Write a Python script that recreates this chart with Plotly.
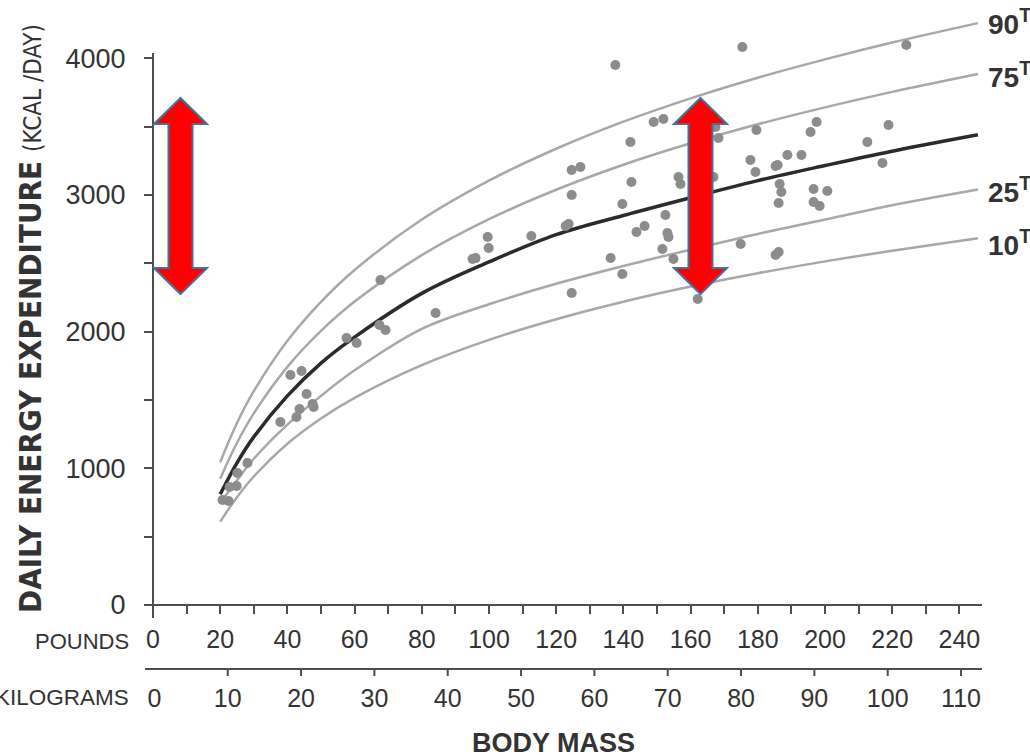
import plotly.graph_objects as go

# ---------------- data ----------------
LB_TICKS = [0, 20, 40, 60, 80, 100, 120, 140, 160, 180, 200, 220, 240]
LB_MINOR = [10, 30, 50, 70, 90, 110, 130, 150, 170, 190, 210, 230]
KG_TICKS = [0, 10, 20, 30, 40, 50, 60, 70, 80, 90, 100, 110]
KCAL_TICKS = [0, 1000, 2000, 3000, 4000]
KCAL_MINOR = [500, 1500, 2500, 3500]

DOT_LB = [20.7, 22.5, 22.8, 24.9, 25.1, 28.1, 37.9, 40.9, 44.2, 42.7, 43.6, 45.7, 47.5, 47.8,
          57.6, 60.6, 67.4, 69.2, 67.7, 84.1, 95.1, 96.0, 99.6, 99.9, 112.6, 122.8, 123.7,
          124.6, 127.2, 124.6, 124.6, 136.2, 137.6, 139.7, 139.7, 142.1, 142.4, 143.9, 146.3,
          149.0, 151.9, 152.5, 153.1, 153.4, 151.6, 154.9, 156.4, 157.0, 162.1, 167.4, 168.3,
          166.8, 174.9, 175.4, 177.8, 179.3, 179.6, 185.3, 185.9, 188.8, 193.0, 195.7, 197.5,
          186.5, 187.0, 186.2, 185.3, 186.2, 196.6, 200.7, 196.6, 198.4, 212.6, 218.9, 217.1,
          224.2]
DOT_KCAL = [768, 761, 863, 871, 966, 1039, 1339, 1683, 1712, 1375, 1434, 1544, 1471, 1449,
            1953, 1917, 2049, 2012, 2378, 2136, 2531, 2538, 2692, 2612, 2700, 2773, 2788,
            3183, 3205, 3000, 2283, 2539, 3951, 2422, 2934, 3388, 3095, 2729, 2773,
            3534, 3556, 2853, 2722, 2692, 2605, 2531, 3131, 3080, 2239, 3497, 3417,
            3131, 2641, 4083, 3256, 3168, 3475, 3212, 3219, 3292, 3292, 3461, 3534,
            3080, 3022, 2941, 2561, 2583, 3044, 3029, 2948, 2919, 3388, 3512, 3234,
            4097]

CURVE_LB = [20, 25, 30, 40, 50, 60, 80, 100, 120, 140, 160, 180, 200, 220, 245.5]
P90 = [1045, 1331, 1564, 1933, 2218, 2451, 2820, 3105, 3338, 3536, 3707, 3858, 3992, 4115, 4257]
P75 = [924, 1187, 1402, 1742, 2005, 2220, 2560, 2823, 3038, 3221, 3378, 3517, 3641, 3754, 3885]
P50 = [810, 1040, 1230, 1530, 1770, 1960, 2280, 2510, 2710, 2850, 2980, 3105, 3215, 3320, 3440]
P25 = [745, 912, 1070, 1320, 1530, 1717, 2020, 2200, 2350, 2480, 2600, 2715, 2820, 2925, 3040]
P10 = [610, 789, 940, 1180, 1365, 1516, 1755, 1940, 2091, 2219, 2330, 2427, 2514, 2592, 2684]
PCT_LABELS = ["90", "75", "25", "10"]

# ---------------- layout geometry ----------------
W, H = 1030, 755
ML, MR, MT, MB = 153, 0, 0, 86
PW, PH = W - ML - MR, H - MT - MB


def pxx(px):
    return (px - ML) / PW


def pxy(py):
    return (PH - py) / PH


Y0_PX = 605
LB_PX = 3.36
KCAL_PX = 0.13668
KG0_PX, KG_PXPER = 154.4, 7.333

TXT = "#333333"
AX = "#4d4d4d"
GRAY = "#a8a8a8"

fig = go.Figure()
for name, vals, col, w in [("90", P90, GRAY, 2.5), ("75", P75, GRAY, 2.5),
                           ("25", P25, GRAY, 2.5), ("10", P10, GRAY, 2.5),
                           ("50", P50, "#2b2b2b", 3.5)]:
    fig.add_trace(go.Scatter(x=CURVE_LB, y=vals, mode="lines",
                             line=dict(color=col, width=w, shape="spline", smoothing=1.0),
                             hoverinfo="skip", showlegend=False))
fig.add_trace(go.Scatter(x=DOT_LB, y=DOT_KCAL, mode="markers",
                         marker=dict(size=10, color="#8c8c8c", line=dict(width=0)),
                         showlegend=False))
fig.add_trace(go.Scatter(x=[None], y=[None], xaxis="x2", showlegend=False))

shapes = []
# axis lines
shapes.append(dict(type="line", xref="paper", yref="paper", x0=pxx(145), x1=pxx(982),
                   y0=pxy(Y0_PX), y1=pxy(Y0_PX), line=dict(color=AX, width=2)))
shapes.append(dict(type="line", xref="paper", yref="paper", x0=pxx(145), x1=pxx(982),
                   y0=pxy(669), y1=pxy(669), line=dict(color=AX, width=2)))
shapes.append(dict(type="line", xref="paper", yref="paper", x0=0, x1=0,
                   y0=pxy(618), y1=pxy(53), line=dict(color=AX, width=2)))
# kg ticks
for kg in KG_TICKS[1:]:
    shapes.append(dict(type="line", xref="x2", yref="paper", x0=kg, x1=kg,
                       y0=pxy(669), y1=pxy(676), line=dict(color=AX, width=2)))


def arrow(cx):
    top, hb1, hb2, bot = 98, 124, 268, 294
    hw, sw = 26.5, 12
    pts = [(cx, top), (cx + hw, hb1), (cx + sw, hb1), (cx + sw, hb2), (cx + hw, hb2),
           (cx, bot), (cx - hw, hb2), (cx - sw, hb2), (cx - sw, hb1), (cx - hw, hb1)]
    d = "M " + " L ".join(f"{pxx(x):.5f},{pxy(y):.5f}" for x, y in pts) + " Z"
    return dict(type="path", xref="paper", yref="paper", path=d, fillcolor="#ff0000",
                line=dict(color="#41719c", width=2), layer="above")


shapes.append(arrow(180.5))
shapes.append(arrow(700.5))

annotations = []
for lab, py in zip(PCT_LABELS, [22, 75, 190, 243]):
    annotations.append(dict(xref="paper", yref="paper", x=pxx(986), y=pxy(py),
                            xanchor="left", yanchor="middle", showarrow=False,
                            text=f"<b>{lab}<sup>TH</sup></b>",
                            font=dict(family="Liberation Sans, Arial", size=28, color=TXT)))
annotations.append(dict(xref="paper", yref="paper", x=pxx(30), y=pxy(319), textangle=-90,
                        showarrow=False, xanchor="center", yanchor="middle",
                        text="<b>DAILY ENERGY EXPENDITURE</b> <span style='font-size:24px'>(KCAL /DAY)</span>",
                        font=dict(family="DejaVu Sans Condensed, Liberation Sans Narrow, Arial", size=31, color=TXT)))
annotations.append(dict(xref="paper", yref="paper", x=pxx(553), y=pxy(743), showarrow=False,
                        text="<b>BODY MASS</b>", xanchor="center", yanchor="middle",
                        font=dict(family="Liberation Sans, Arial", size=27, color=TXT)))
annotations.append(dict(xref="paper", yref="paper", x=pxx(131), y=pxy(641), showarrow=False,
                        text="POUNDS", xanchor="right", yanchor="middle",
                        font=dict(family="Liberation Sans, Arial", size=22, color=TXT)))
annotations.append(dict(xref="paper", yref="paper", x=pxx(131), y=pxy(697), showarrow=False,
                        text="KILOGRAMS", xanchor="right", yanchor="middle",
                        font=dict(family="Liberation Sans, Arial", size=22.5, color=TXT)))

tickfont = dict(family="Liberation Sans, Arial", size=25, color=TXT)
fig.update_layout(
    width=W, height=H, margin=dict(l=ML, r=MR, t=MT, b=MB, autoexpand=False),
    paper_bgcolor="white", plot_bgcolor="white", showlegend=False,
    xaxis=dict(range=[0, PW / LB_PX], showgrid=False, zeroline=False, showline=False,
               tickvals=LB_TICKS, ticktext=[str(v) for v in LB_TICKS],
               ticks="outside", ticklen=8, tickwidth=2, tickcolor=AX, tickfont=tickfont,
               minor=dict(tickmode="array", tickvals=LB_MINOR, ticks="outside", ticklen=8,
                          tickwidth=2, tickcolor=AX, showgrid=False),
               anchor="y", ticklabelstandoff=4, automargin=False),
    xaxis2=dict(range=[(ML - KG0_PX) / KG_PXPER, (W - KG0_PX) / KG_PXPER], overlaying="x",
                anchor="free", position=0, side="bottom", showgrid=False, zeroline=False,
                showline=False, tickvals=KG_TICKS, ticktext=[str(v) for v in KG_TICKS],
                ticks="", tickfont=tickfont, ticklabelstandoff=12, automargin=False),
    yaxis=dict(range=[0, Y0_PX / KCAL_PX], domain=[pxy(Y0_PX), 1], showgrid=False,
               zeroline=False, showline=False, tickvals=KCAL_TICKS,
               ticktext=[str(v) for v in KCAL_TICKS], ticks="outside", ticklen=8,
               tickwidth=2, tickcolor=AX, tickfont=dict(family="Liberation Sans, Arial", size=27, color=TXT),
               minor=dict(tickmode="array", tickvals=KCAL_MINOR, ticks="outside", ticklen=8,
                          tickwidth=2, tickcolor=AX, showgrid=False),
               ticklabelstandoff=13, automargin=False),
    shapes=shapes, annotations=annotations,
)
fig.write_html("out.html", config={"displayModeBar": False},
               post_script="document.body.style.margin='0';document.body.style.padding='0';")
